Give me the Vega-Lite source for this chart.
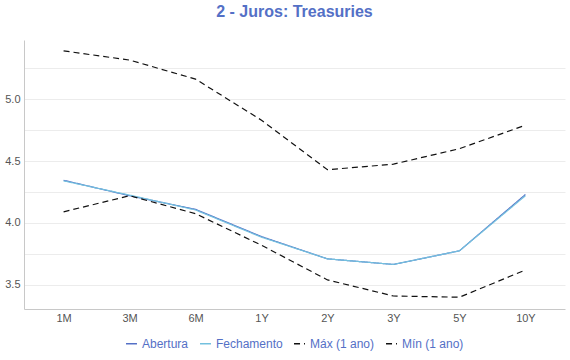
{
  "$schema": "https://vega.github.io/schema/vega-lite/v6.json",
  "autosize": {"type": "fit", "contains": "padding"},
  "width": 570,
  "height": 360,
  "padding": {"left": 4, "right": 5, "top": 4, "bottom": 10},
  "background": "white",
  "title": {"text": "2 - Juros: Treasuries", "color": "#5470c6", "fontSize": 16, "fontWeight": "bold", "font": "Liberation Sans", "anchor": "middle", "offset": 20},
  "data": {"values": [
    {"prazo": "1M", "serie": "Abertura", "valor": 4.345},
    {"prazo": "3M", "serie": "Abertura", "valor": 4.22},
    {"prazo": "6M", "serie": "Abertura", "valor": 4.11},
    {"prazo": "1Y", "serie": "Abertura", "valor": 3.89},
    {"prazo": "2Y", "serie": "Abertura", "valor": 3.71},
    {"prazo": "3Y", "serie": "Abertura", "valor": 3.665},
    {"prazo": "5Y", "serie": "Abertura", "valor": 3.775},
    {"prazo": "10Y", "serie": "Abertura", "valor": 4.23},
    {"prazo": "1M", "serie": "Fechamento", "valor": 4.34},
    {"prazo": "3M", "serie": "Fechamento", "valor": 4.225},
    {"prazo": "6M", "serie": "Fechamento", "valor": 4.105},
    {"prazo": "1Y", "serie": "Fechamento", "valor": 3.885},
    {"prazo": "2Y", "serie": "Fechamento", "valor": 3.71},
    {"prazo": "3Y", "serie": "Fechamento", "valor": 3.665},
    {"prazo": "5Y", "serie": "Fechamento", "valor": 3.775},
    {"prazo": "10Y", "serie": "Fechamento", "valor": 4.22},
    {"prazo": "1M", "serie": "Máx (1 ano)", "valor": 5.39},
    {"prazo": "3M", "serie": "Máx (1 ano)", "valor": 5.316},
    {"prazo": "6M", "serie": "Máx (1 ano)", "valor": 5.162},
    {"prazo": "1Y", "serie": "Máx (1 ano)", "valor": 4.83},
    {"prazo": "2Y", "serie": "Máx (1 ano)", "valor": 4.43},
    {"prazo": "3Y", "serie": "Máx (1 ano)", "valor": 4.475},
    {"prazo": "5Y", "serie": "Máx (1 ano)", "valor": 4.6},
    {"prazo": "10Y", "serie": "Máx (1 ano)", "valor": 4.79},
    {"prazo": "1M", "serie": "Mín (1 ano)", "valor": 4.09},
    {"prazo": "3M", "serie": "Mín (1 ano)", "valor": 4.22},
    {"prazo": "6M", "serie": "Mín (1 ano)", "valor": 4.075},
    {"prazo": "1Y", "serie": "Mín (1 ano)", "valor": 3.82},
    {"prazo": "2Y", "serie": "Mín (1 ano)", "valor": 3.54},
    {"prazo": "3Y", "serie": "Mín (1 ano)", "valor": 3.41},
    {"prazo": "5Y", "serie": "Mín (1 ano)", "valor": 3.40},
    {"prazo": "10Y", "serie": "Mín (1 ano)", "valor": 3.62}
  ]},
  "mark": {"type": "line", "strokeWidth": 1.2},
  "encoding": {
    "x": {
      "field": "prazo", "type": "ordinal",
      "sort": ["1M", "3M", "6M", "1Y", "2Y", "3Y", "5Y", "10Y"],
      "scale": {"type": "point", "padding": 0.6},
      "axis": {"title": null, "labelAngle": 0, "labelColor": "#555", "labelFontSize": 11, "labelFont": "Liberation Sans", "ticks": false, "domainColor": "#c8c8c8", "labelPadding": 3, "grid": false}
    },
    "y": {
      "field": "valor", "type": "quantitative",
      "scale": {"domain": [3.305, 5.478], "nice": false, "zero": false},
      "axis": {"title": null, "values": [3.5, 3.75, 4.0, 4.25, 4.5, 4.75, 5.0, 5.25], "labelExpr": "(datum.value * 2) % 1 == 0 ? format(datum.value, '.1f') : ''", "labelColor": "#555", "labelFontSize": 11, "labelFont": "Liberation Sans", "ticks": false, "domainColor": "#c8c8c8", "gridColor": "#ececec", "labelPadding": 4}
    },
    "color": {
      "field": "serie", "type": "nominal",
      "scale": {"domain": ["Abertura", "Fechamento", "Máx (1 ano)", "Mín (1 ano)"], "range": ["#5470c6", "#73c0de", "#111111", "#111111"]},
      "legend": {"title": null, "orient": "bottom", "direction": "horizontal", "symbolType": "stroke", "symbolSize": 120, "symbolStrokeWidth": 1.3, "labelColor": "#5470c6", "labelFontSize": 12, "labelFont": "Liberation Sans", "columnPadding": 8, "offset": 14}
    },
    "strokeDash": {
      "field": "serie", "type": "nominal",
      "scale": {"domain": ["Abertura", "Fechamento", "Máx (1 ano)", "Mín (1 ano)"], "range": [[1, 0], [1, 0], [6, 4], [6, 4]]},
      "legend": {"title": null, "orient": "bottom", "direction": "horizontal", "symbolType": "stroke", "symbolSize": 120, "symbolStrokeWidth": 1.3, "labelColor": "#5470c6", "labelFontSize": 12, "labelFont": "Liberation Sans", "columnPadding": 8, "offset": 14}
    }
  },
  "config": {"view": {"stroke": null}, "legend": {"layout": {"bottom": {"anchor": "middle"}}}}
}
